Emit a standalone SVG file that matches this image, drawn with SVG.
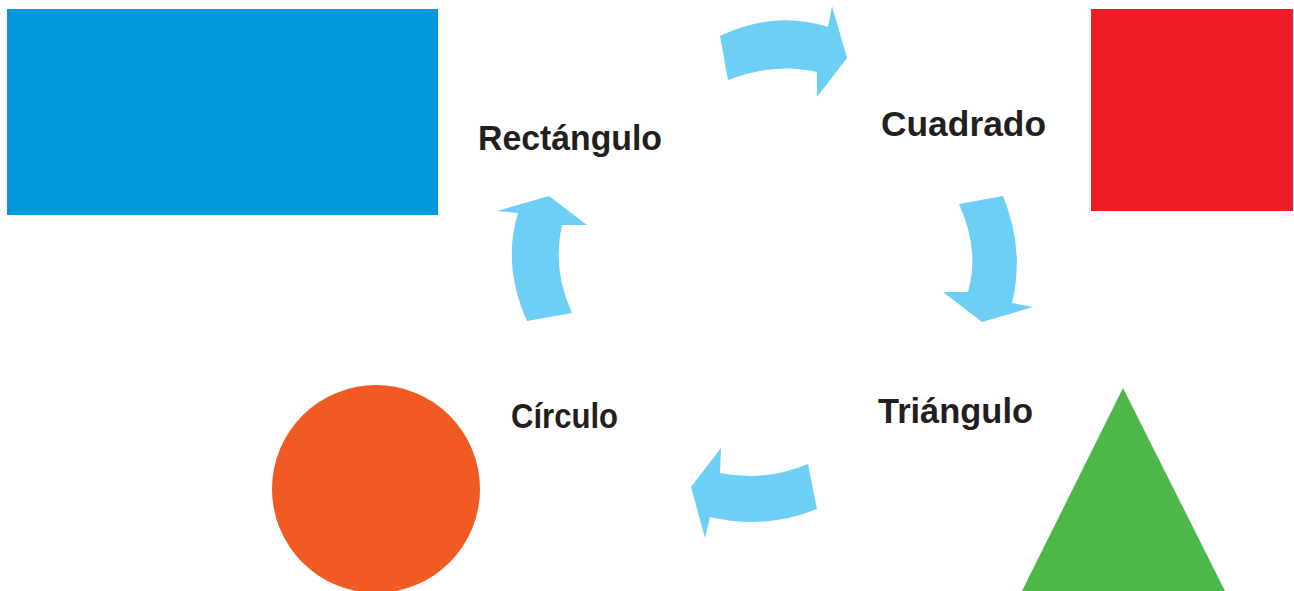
<svg xmlns="http://www.w3.org/2000/svg" width="1294" height="591" viewBox="0 0 1294 591">
<style>
.lbl{font-family:"Liberation Sans",Arial,sans-serif;font-weight:bold;font-size:35px;fill:#231f20}
.arr{fill:#6dcff6}
</style>
<rect width="1294" height="591" fill="#ffffff"/>
<g id="rectangulo">
<rect x="7" y="9" width="431" height="206" fill="#0398dc"/>
<text class="lbl" x="478" y="150" textLength="184" lengthAdjust="spacingAndGlyphs">Rectángulo</text>
</g>
<g id="cuadrado">
<rect x="1091" y="9" width="202" height="202" fill="#ed1c24"/>
<text class="lbl" x="881" y="136" textLength="165" lengthAdjust="spacingAndGlyphs">Cuadrado</text>
</g>
<g id="triangulo">
<polygon points="1123,388 1225,591 1022,591" fill="#4db848"/>
<text class="lbl" x="878" y="423" textLength="155" lengthAdjust="spacingAndGlyphs">Triángulo</text>
</g>
<g id="circulo">
<circle cx="376" cy="489" r="104" fill="#f15a22"/>
<text class="lbl" x="511" y="428" textLength="107" lengthAdjust="spacingAndGlyphs">Círculo</text>
</g>
<g id="connectors">
<path class="arr" d="M720,36 Q775,10 828,27 L832,6 L847,58 L817,97 L817,72 Q775,62 728,80 Z"/>
<path class="arr" d="M959,204 L1003,196 Q1025,250 1012,303 L1033,307 L982,322 L943,292 L968,292 Q980,250 959,204 Z"/>
<path class="arr" d="M808,464 L817,509 Q765,530 710,517 L705,538 L691,487 L721,448 L720,473 Q765,482 808,464 Z"/>
<path class="arr" d="M527,321 L572,313 Q552,270 562,225 L587,225 L549,196 L497,211 L518,213 Q502,265 527,321 Z"/>
</g>
</svg>
